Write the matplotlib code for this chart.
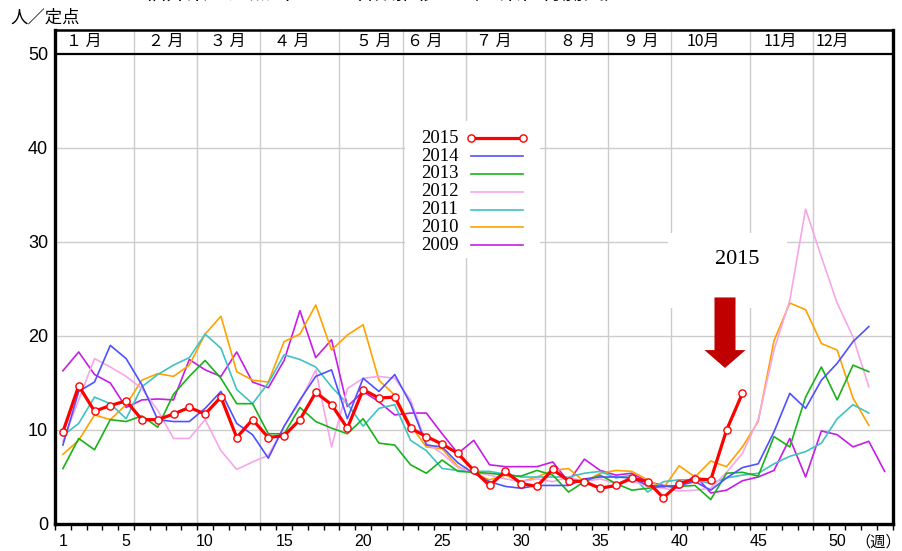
import matplotlib.pyplot as plt
from matplotlib.patches import Rectangle, FancyArrow

# weekly values (per sentinel site)
y2015 = [9.8, 14.7, 12.0, 12.6, 13.1, 11.1, 11.1, 11.7, 12.4, 11.7,
         13.5, 9.2, 11.1, 9.2, 9.4, 11.1, 14.0, 12.7, 10.2, 14.3,
         13.4, 13.5, 10.2, 9.3, 8.5, 7.5, 5.7, 4.1, 5.6, 4.3,
         4.0, 5.8, 4.6, 4.5, 3.8, 4.1, 4.9, 4.5, 2.8, 4.3,
         4.8, 4.7, 10.0, 13.9]
y2014 = [8.4, 14.1, 15.1, 19.0, 17.6, 14.8, 11.1, 10.9, 10.9, 12.3,
         14.1, 10.7, 9.5, 7.0, 10.4, 13.2, 15.7, 16.4, 11.2, 15.5,
         14.1, 15.9, 12.8, 8.4, 8.2, 6.5, 5.4, 4.5, 4.0, 3.8,
         4.1, 4.1, 4.1, 4.8, 5.0, 5.0, 4.9, 4.1, 4.0, 4.1,
         4.5, 3.6, 4.9, 6.0, 6.4, 9.8, 13.9, 12.3, 15.3, 17.1,
         19.4, 21.0]
y2013 = [5.9, 9.1, 7.9, 11.1, 10.9, 11.5, 10.3, 13.8, 15.7, 17.4,
         15.5, 12.8, 12.8, 9.6, 9.6, 12.4, 10.9, 10.2, 9.6, 11.2,
         8.6, 8.4, 6.3, 5.4, 6.8, 5.6, 5.5, 5.4, 5.2, 5.1,
         5.7, 5.2, 3.4, 4.5, 5.2, 4.3, 3.6, 3.8, 4.0, 4.0,
         4.1, 2.6, 5.4, 5.5, 5.1, 9.3, 8.2, 13.5, 16.7, 13.2,
         16.9, 16.2]
y2012 = [8.8, 13.2, 17.6, 16.7, 15.7, 14.4, 12.1, 9.1, 9.1, 11.1,
         7.8, 5.8, 6.6, 7.3, 10.4, 13.0, 16.4, 8.2, 14.4, 15.5,
         15.7, 15.5, 13.2, 8.6, 7.5, 6.0, 5.5, 5.2, 4.8, 4.5,
         4.8, 4.5, 5.0, 4.5, 4.8, 4.3, 4.6, 4.0, 3.8, 3.5,
         3.6, 3.8, 5.5, 7.5, 11.1, 18.5, 23.8, 33.5, 28.4, 23.5,
         19.9, 14.6]
y2011 = [9.4, 10.7, 13.5, 12.8, 11.2, 14.6, 15.9, 16.9, 17.7, 20.2,
         18.7, 14.3, 12.8, 15.0, 18.0, 17.5, 16.7, 14.6, 12.8, 10.4,
         12.3, 12.7, 8.9, 7.8, 5.9, 5.7, 5.6, 5.6, 5.3, 5.0,
         5.0, 5.0, 5.0, 5.4, 5.6, 4.9, 5.2, 3.4, 4.5, 4.7,
         4.7, 4.3, 4.9, 5.2, 5.4, 6.4, 7.2, 7.7, 8.6, 11.2,
         12.7, 11.8]
y2010 = [7.4, 8.9, 11.6, 11.1, 12.7, 15.3, 16.0, 15.7, 16.9, 20.2,
         22.1, 16.2, 15.3, 15.1, 19.4, 20.2, 23.3, 18.5, 20.1, 21.2,
         15.3, 13.7, 10.5, 8.2, 8.0, 6.1, 5.4, 4.7, 5.2, 4.5,
         5.0, 5.7, 5.9, 4.5, 5.4, 5.7, 5.6, 4.7, 3.8, 6.2,
         5.0, 6.7, 6.1, 8.2, 10.9, 19.5, 23.5, 22.8, 19.2, 18.5,
         13.4, 10.5]
y2009 = [16.3, 18.3, 15.9, 15.0, 12.4, 13.2, 13.3, 13.2, 17.5, 16.4,
         15.7, 18.3, 15.1, 14.5, 17.4, 22.7, 17.7, 19.6, 12.5, 14.1,
         13.0, 11.6, 11.8, 11.8, 9.6, 7.5, 8.9, 6.3, 6.1, 6.1,
         6.1, 6.6, 4.5, 6.9, 5.7, 5.2, 5.4, 4.5, 4.1, 3.8,
         5.2, 3.3, 3.6, 4.6, 5.0, 5.7, 9.1, 5.0, 9.9, 9.5,
         8.2, 8.8, 5.6]

years = ["2015", "2014", "2013", "2012", "2011", "2010", "2009"]
series = [y2015, y2014, y2013, y2012, y2011, y2010, y2009]
colors = ["#ff0000", "#5050ff", "#19b319", "#f7a6e8", "#40c2c2", "#ffa200", "#c51ee6"]

month_labels = ["１ 月", "２ 月", "３ 月", "４ 月", "５ 月", "６ 月",
                "７ 月", "８ 月", "９ 月", "10月", "11月", "12月"]
month_label_pos = [2.3, 7.5, 11.45, 15.5, 20.7, 23.9, 28.3, 33.6, 37.6, 41.5, 46.4, 49.7]
month_bounds = [5.5, 9.5, 13.5, 18.5, 22.5, 26.5, 31.5, 35.5, 39.5, 44.5, 48.5]
week_ticks = [1, 5, 10, 15, 20, 25, 30, 35, 40, 45, 50]

CJK = ["Noto Sans CJK JP", "DejaVu Sans"]
W, H = 902, 551

fig = plt.figure(figsize=(W / 100, H / 100), dpi=100)
ax = fig.add_axes([55 / W, 1 - 524 / H, (892.5 - 55) / W, (524 - 30) / H])
ax.set_xlim(0.5, 53.5)
ax.set_ylim(0, 52.55)

# grid
for v in [10, 20, 30, 40]:
    ax.axhline(v, color="#cccccc", lw=1.0, zorder=1)
for b in month_bounds:
    ax.axvline(b, color="#cccccc", lw=1.0, zorder=1)
ax.axhline(50, color="black", lw=1.6, zorder=4)

# month header
for lab, pos in zip(month_labels, month_label_pos):
    ax.text(pos, 51.3, lab, ha="center", va="center", fontsize=11.5, family=CJK)

# white boxes behind legend and annotation
ax.add_patch(Rectangle((22.65, 28.3), 8.55, 14.6, facecolor="white", edgecolor="none", zorder=1.5))
ax.add_patch(Rectangle((39.3, 23.0), 7.5, 8.0, facecolor="white", edgecolor="none", zorder=1.5))

# data lines
for yr, vals, c in zip(years[::-1], series[::-1], colors[::-1]):
    weeks = range(1, len(vals) + 1)
    if yr == "2015":
        ax.plot(weeks, vals, color=c, lw=2.3, marker="o", ms=5.2, mfc="white",
                mec=c, mew=1.0, zorder=6)
    else:
        ax.plot(weeks, vals, color=c, lw=1.2, zorder=5)

# legend (drawn by hand, like the original)
row_y = 41.03
for yr, c in zip(years, colors):
    ax.text(23.64, row_y, yr, ha="left", va="center", fontsize=13.5,
            family="Liberation Serif", zorder=7)
    if yr == "2015":
        ax.plot([26.82, 30.11], [row_y, row_y], color=c, lw=2.3, marker="o", ms=5.2,
                mfc="white", mec=c, mew=1.0, zorder=7)
    else:
        ax.plot([26.82, 30.11], [row_y, row_y], color=c, lw=1.2, zorder=7)
    row_y -= 1.894

# annotation
ax.text(43.7, 28.1, "2015", ha="center", va="center", fontsize=16,
        family="Liberation Serif", zorder=7)
ax.add_patch(FancyArrow(42.9, 24.1, 0, -7.5, width=1.33, head_width=2.6,
                        head_length=1.9, length_includes_head=True,
                        facecolor="#c00000", edgecolor="none", zorder=7))

# axes styling
for side in ["left", "right", "bottom"]:
    ax.spines[side].set_linewidth(2.4)
ax.spines["top"].set_linewidth(1.8)
ax.set_yticks([0, 10, 20, 30, 40, 50])
ax.set_yticklabels(["0", "10", "20", "30", "40", "50"], family="Liberation Sans", fontsize=13)
ax.tick_params(axis="y", length=0, pad=5)
ax.set_xticks(week_ticks)
ax.set_xticklabels([str(w) for w in week_ticks], family="Liberation Sans", fontsize=11.5)
ax.set_xticks([w + 0.5 for w in range(0, 54)], minor=True)
ax.tick_params(axis="x", which="major", length=0, pad=7)
ax.tick_params(axis="x", which="minor", length=4, width=1.0, direction="out")

ax.text(52.6, -1.9, "（週）", ha="center", va="center", fontsize=11, family=CJK,
        clip_on=False)
fig.text(10 / W, 1 - 18 / H, "人／定点", ha="left", va="center", fontsize=12.5, family=CJK)
fig.text(385 / W, 1 - 5 / H, "福井県　定点当たり患者数推移　（感染性胃腸炎）", ha="center",
         va="bottom", fontsize=15, family=CJK)

fig.savefig("out.png", dpi=100)
